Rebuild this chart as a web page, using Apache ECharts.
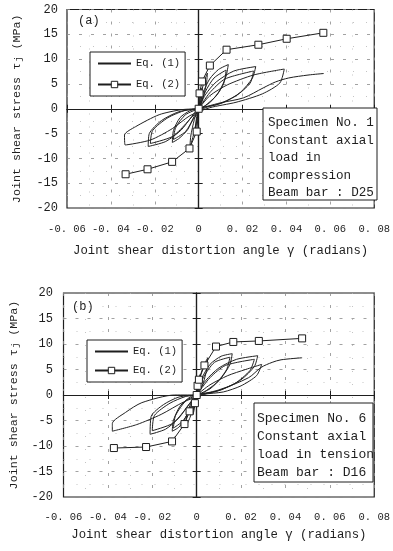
<!DOCTYPE html>
<html>
<head>
<meta charset="utf-8">
<script src="https://cdn.jsdelivr.net/npm/echarts@6/dist/echarts.min.js"></script>
<style>
html,body{margin:0;padding:0;background:#fff;}
#chart{width:393px;height:551px;}
</style>
</head>
<body>
<div id="chart"></div>
<script>
// ---- tick labels ----
const xTickLabels = ['-0. 06','-0. 04','-0. 02','0','0. 02','0. 04','0. 06','0. 08'];
const yTickLabels = ['-20','-15','-10','-5','0','5','10','15','20'];
const legendNames = ['Eq. (1)', 'Eq. (2)'];

// ---- Specimen No.1 (a) ----
const aEq2 = [[-0.0333,-13.2],[-0.0233,-12.2],[-0.0121,-10.7],[-0.0042,-8.0],[-0.0009,-4.6],[0,0],[0.0004,3.1],[0.0015,5.5],[0.0051,8.7],[0.0127,11.9],[0.0272,12.9],[0.0401,14.1],[0.0568,15.3]];
const aEq1 = [[0,0],[0.01,1.2],[0.0204,2.2],[0.0294,4.2],[0.035,5.4],[0.041,6.2],[0.05,6.8],[0.057,7.1]];
const aCycle1 = [[0,0],[0.0008,2.5],[0.0015,4.2],[0.0012,2.0],[0.0005,0.5],[-0.0005,-1.5],[-0.0012,-3.5],[-0.0016,-4.5],[-0.0012,-2.5],[-0.0004,-0.5],[0,0]];
const aCycle2 = [[0,0],[0.001,2.8],[0.0025,5.5],[0.004,7.2],[0.0035,5.0],[0.002,2.2],[0.0005,0.2],[-0.001,-2.5],[-0.0025,-5.5],[-0.004,-7.8],[-0.0036,-5.5],[-0.002,-2.2],[-0.0005,-0.3],[0,0]];
const aCycle3 = [[0,0],[0.002,3.2],[0.005,6.0],[0.009,7.9],[0.0135,8.9],[0.0125,6.6],[0.0095,3.6],[0.005,1.2],[0.001,0.1],[-0.002,-1.5],[-0.005,-4.2],[-0.009,-6.0],[-0.012,-6.8],[-0.0115,-4.4],[-0.0085,-1.8],[-0.004,-0.4],[0,0]];
const aCycle3r = [[0,0],[0.003,3.4],[0.007,6.2],[0.0125,7.8],[0.0115,5.2],[0.008,2.6],[0.003,0.6],[-0.002,-1.8],[-0.006,-4.6],[-0.0115,-6.2],[-0.0105,-3.8],[-0.006,-1.2],[0,0]];
const aCycle4 = [[0,0],[0.003,2.8],[0.008,5.4],[0.016,7.6],[0.026,8.5],[0.0245,6.2],[0.019,3.3],[0.011,1.2],[0.003,0.2],[-0.003,-1.6],[-0.008,-4.3],[-0.015,-6.6],[-0.023,-7.6],[-0.0225,-5.0],[-0.017,-2.4],[-0.009,-0.6],[0,0]];
const aCycle4r = [[0,0],[0.005,3.2],[0.012,6.0],[0.025,7.6],[0.0235,5.2],[0.017,2.6],[0.008,0.8],[0,0],[-0.005,-2.6],[-0.012,-5.6],[-0.022,-7.0],[-0.021,-4.4],[-0.014,-1.8],[-0.006,-0.3],[0,0]];
const aCycle5 = [[0,0],[0.005,2.6],[0.013,4.8],[0.025,6.8],[0.039,8.0],[0.037,5.2],[0.029,3.0],[0.017,1.3],[0.005,0.2],[-0.004,-1.4],[-0.012,-4.0],[-0.022,-6.3],[-0.0335,-7.3],[-0.0338,-5.3],[-0.0287,-3.6],[-0.018,-1.2],[-0.008,-0.2],[0,0]];

// ---- Specimen No.6 (b) ----
const bEq2 = [[-0.0373,-10.4],[-0.0228,-10.2],[-0.0111,-9.1],[-0.0055,-5.7],[-0.0032,-3.2],[-0.0008,-1.6],[0,0],[0.0004,1.8],[0.001,3.0],[0.0035,5.8],[0.0087,9.5],[0.0165,10.4],[0.028,10.6],[0.0475,11.1]];
const bEq1 = [[0,0],[0.01,1.0],[0.0234,3.4],[0.029,5.4],[0.034,6.4],[0.038,6.9],[0.0475,7.3]];
const bCycle1 = [[0,0],[0.0008,2.2],[0.0015,4.0],[0.0012,1.8],[0.0004,0.4],[-0.0005,-1.2],[-0.0012,-3.0],[-0.0016,-3.8],[-0.0012,-2.0],[-0.0004,-0.4],[0,0]];
const bCycle2 = [[0,0],[0.0012,3.0],[0.003,5.6],[0.005,7.3],[0.0045,5.0],[0.003,2.4],[0.001,0.4],[-0.001,-1.8],[-0.003,-4.4],[-0.005,-6.3],[-0.0046,-4.3],[-0.003,-2.0],[-0.001,-0.3],[0,0]];
const bCycle3 = [[0,0],[0.002,3.0],[0.006,6.0],[0.011,7.6],[0.016,8.1],[0.015,6.0],[0.011,3.3],[0.006,1.2],[0.001,0.1],[-0.002,-1.6],[-0.005,-4.4],[-0.008,-6.3],[-0.011,-7.1],[-0.0105,-5.0],[-0.0075,-2.2],[-0.003,-0.4],[0,0]];
const bCycle3r = [[0,0],[0.003,3.4],[0.008,6.4],[0.015,7.4],[0.0135,5.0],[0.009,2.4],[0.003,0.4],[-0.002,-2.0],[-0.006,-5.0],[-0.0105,-6.5],[-0.0095,-4.0],[-0.005,-1.2],[0,0]];
const bCycle4 = [[0,0],[0.004,2.8],[0.01,5.3],[0.018,7.0],[0.0275,7.7],[0.026,5.6],[0.02,3.0],[0.011,1.0],[0.003,0.1],[-0.003,-1.6],[-0.008,-4.5],[-0.014,-6.7],[-0.021,-7.7],[-0.0205,-4.2],[-0.015,-1.9],[-0.008,-0.4],[0,0]];
const bCycle4r = [[0,0],[0.006,3.4],[0.013,5.8],[0.026,7.0],[0.024,4.8],[0.017,2.2],[0.008,0.6],[0,0],[-0.005,-2.8],[-0.011,-5.6],[-0.02,-7.0],[-0.019,-4.0],[-0.012,-1.6],[-0.005,-0.3],[0,0]];
const bCycle5 = [[0,0],[0.006,2.0],[0.014,3.8],[0.022,5.0],[0.0293,6.0],[0.027,3.8],[0.02,1.8],[0.012,0.6],[0.003,0.1],[-0.006,-1.4],[-0.016,-3.8],[-0.027,-5.8],[-0.038,-7.1],[-0.038,-5.6],[-0.032,-3.4],[-0.0247,-1.5],[-0.0099,0],[0,0]];

const aText = 'Specimen No. 1\nConstant axial\nload in\ncompression\nBeam bar : D25';
const bText = 'Specimen No. 6\nConstant axial\nload in tension\nBeam bar : D16';

const MONO = '"Liberation Mono", "DejaVu Sans Mono", monospace';
const INK = '#1e1e1e';

function xAxesFor(g, yMain, labelMargin, nameGap) {
  const base = {gridIndex: g, type: 'value', min: -0.06, max: 0.08, interval: 0.02};
  return [
    Object.assign({}, base, {
      position: 'bottom',
      axisLine: {show: false, onZero: false},
      axisTick: {show: false},
      axisLabel: {formatter: v => xTickLabels[Math.round((v + 0.06) / 0.02)], fontFamily: MONO, fontSize: 10.5, color: INK, margin: labelMargin},
      splitLine: {show: true, lineStyle: {color: '#8a8a8a', type: [3, 9], width: 0.8}},
      minorTick: {show: false, splitNumber: 2},
      minorSplitLine: {show: true, lineStyle: {color: '#b5b5b5', type: [1, 12], width: 0.8}},
      name: 'Joint shear distortion angle γ (radians)', nameLocation: 'middle', nameGap: nameGap,
      nameTextStyle: {fontFamily: MONO, fontSize: 12.3, color: INK}
    }),
    Object.assign({}, base, {
      position: 'bottom',
      axisLine: {show: true, onZero: true, onZeroAxisIndex: yMain, lineStyle: {color: INK, width: 1.2}},
      axisTick: {show: true, length: 4, inside: false, lineStyle: {color: INK, width: 1}},
      axisLabel: {show: false}, splitLine: {show: false}
    }),
    Object.assign({}, base, {
      position: 'bottom',
      axisLine: {show: true, onZero: true, onZeroAxisIndex: yMain, lineStyle: {color: INK, width: 1.2}},
      axisTick: {show: true, length: 4, inside: true, lineStyle: {color: INK, width: 1}},
      axisLabel: {show: false}, splitLine: {show: false}
    })
  ];
}

function yAxesFor(g, xMain, labelMargin, nameGap) {
  const base = {gridIndex: g, type: 'value', min: -20, max: 20, interval: 5};
  return [
    Object.assign({}, base, {
      position: 'left',
      axisLine: {show: false, onZero: false},
      axisTick: {show: false},
      axisLabel: {formatter: v => yTickLabels[Math.round((v + 20) / 5)], fontFamily: MONO, fontSize: 12, color: INK, margin: labelMargin},
      splitLine: {show: true, lineStyle: {color: '#8a8a8a', type: [3, 9], width: 0.8}},
      minorTick: {show: false, splitNumber: 2},
      minorSplitLine: {show: true, lineStyle: {color: '#b5b5b5', type: [1, 12], width: 0.8}},
      name: 'Joint shear stress τ{s|j} (MPa)', nameLocation: 'middle', nameGap: nameGap, nameRotate: 90,
      nameTextStyle: {fontFamily: MONO, fontSize: 11.7, color: INK, rich: {s: {fontFamily: MONO, fontSize: 9, color: INK, padding: [4, 0, 0, 1]}}}
    }),
    Object.assign({}, base, {
      position: 'left',
      axisLine: {show: true, onZero: true, onZeroAxisIndex: xMain, lineStyle: {color: INK, width: 1.2}},
      axisTick: {show: true, length: 4, inside: false, lineStyle: {color: INK, width: 1}},
      axisLabel: {show: false}, splitLine: {show: false}
    }),
    Object.assign({}, base, {
      position: 'left',
      axisLine: {show: true, onZero: true, onZeroAxisIndex: xMain, lineStyle: {color: INK, width: 1.2}},
      axisTick: {show: true, length: 4, inside: true, lineStyle: {color: INK, width: 1}},
      axisLabel: {show: false}, splitLine: {show: false}
    })
  ];
}

function loopSeries(data, axisIdx) {
  return {type: 'line', name: 'Test', xAxisIndex: axisIdx, yAxisIndex: axisIdx, data: data,
    symbol: 'none', smooth: 0.25, silent: true, lineStyle: {color: '#222', width: 1}, z: 2};
}
function eq1Series(data, axisIdx) {
  return {type: 'line', name: 'Eq. (1)', xAxisIndex: axisIdx, yAxisIndex: axisIdx, data: data,
    symbol: 'none', smooth: 0.3, lineStyle: {color: INK, width: 1}, itemStyle: {color: INK}, z: 3};
}
function eq2Series(data, axisIdx) {
  return {type: 'line', name: 'Eq. (2)', xAxisIndex: axisIdx, yAxisIndex: axisIdx, data: data,
    symbol: 'rect', symbolSize: 7, showSymbol: true,
    lineStyle: {color: INK, width: 1}, itemStyle: {color: '#fff', borderColor: INK, borderWidth: 1}, z: 4};
}

function legendFor(left, top, gap) {
  return {show: true, orient: 'vertical', left: left, top: top,
    data: [
      {name: legendNames[0], itemStyle: {opacity: 0}},
      {name: legendNames[1], itemStyle: {color: '#fff', borderColor: INK, borderWidth: 1}}
    ],
    backgroundColor: '#fff', borderColor: INK, borderWidth: 1, borderRadius: 0,
    padding: [6, 5, 6, 7], itemWidth: 33, itemHeight: 8, itemGap: gap, selectedMode: false,
    textStyle: {fontFamily: MONO, fontSize: 10.5, color: INK}};
}

function textBox(x, y, w, h, text, tx, ty, fs, lh) {
  return [
    {type: 'rect', shape: {x: x, y: y, width: w, height: h}, style: {fill: '#fff', stroke: INK, lineWidth: 1}, z: 10},
    {type: 'text', x: tx, y: ty, style: {text: text, font: fs + 'px ' + MONO, fill: INK, lineHeight: lh}, z: 11}
  ];
}

const chart = echarts.init(document.getElementById('chart'), null, {renderer: 'canvas'});
chart.setOption({
  animation: false,
  backgroundColor: '#fff',
  grid: [
    {left: 67, top: 9.5, width: 312, height: 198.5, show: true, borderColor: INK, borderWidth: 1.2, backgroundColor: 'transparent'},
    {left: 62.5, top: 293, width: 315.5, height: 204, show: true, borderColor: INK, borderWidth: 1.2, backgroundColor: 'transparent'}
  ],
  xAxis: [].concat(xAxesFor(0, 0, 16, 37), xAxesFor(1, 3, 15, 32)),
  yAxis: [].concat(yAxesFor(0, 0, 9, 44), yAxesFor(1, 3, 10.5, 42.5)),
  legend: [legendFor(90, 52, 10), legendFor(87, 340, 8)],
  series: [
    loopSeries(aCycle1, 0), loopSeries(aCycle2, 0), loopSeries(aCycle3, 0), loopSeries(aCycle3r, 0),
    loopSeries(aCycle4, 0), loopSeries(aCycle4r, 0), loopSeries(aCycle5, 0),
    eq1Series(aEq1, 0), eq2Series(aEq2, 0),
    loopSeries(bCycle1, 3), loopSeries(bCycle2, 3), loopSeries(bCycle3, 3), loopSeries(bCycle3r, 3),
    loopSeries(bCycle4, 3), loopSeries(bCycle4r, 3), loopSeries(bCycle5, 3),
    eq1Series(bEq1, 3), eq2Series(bEq2, 3)
  ],
  graphic: [].concat(
    textBox(263, 108, 114, 92, aText, 268, 114, 12.6, 17.5),
    textBox(254, 403, 119, 79, bText, 257, 409, 13, 18.3),
    [
      {type: 'text', x: 78, y: 15, style: {text: '(a)', font: '12px ' + MONO, fill: INK}, z: 11},
      {type: 'text', x: 72, y: 301, style: {text: '(b)', font: '12px ' + MONO, fill: INK}, z: 11}
    ]
  )
});
</script>
</body>
</html>
